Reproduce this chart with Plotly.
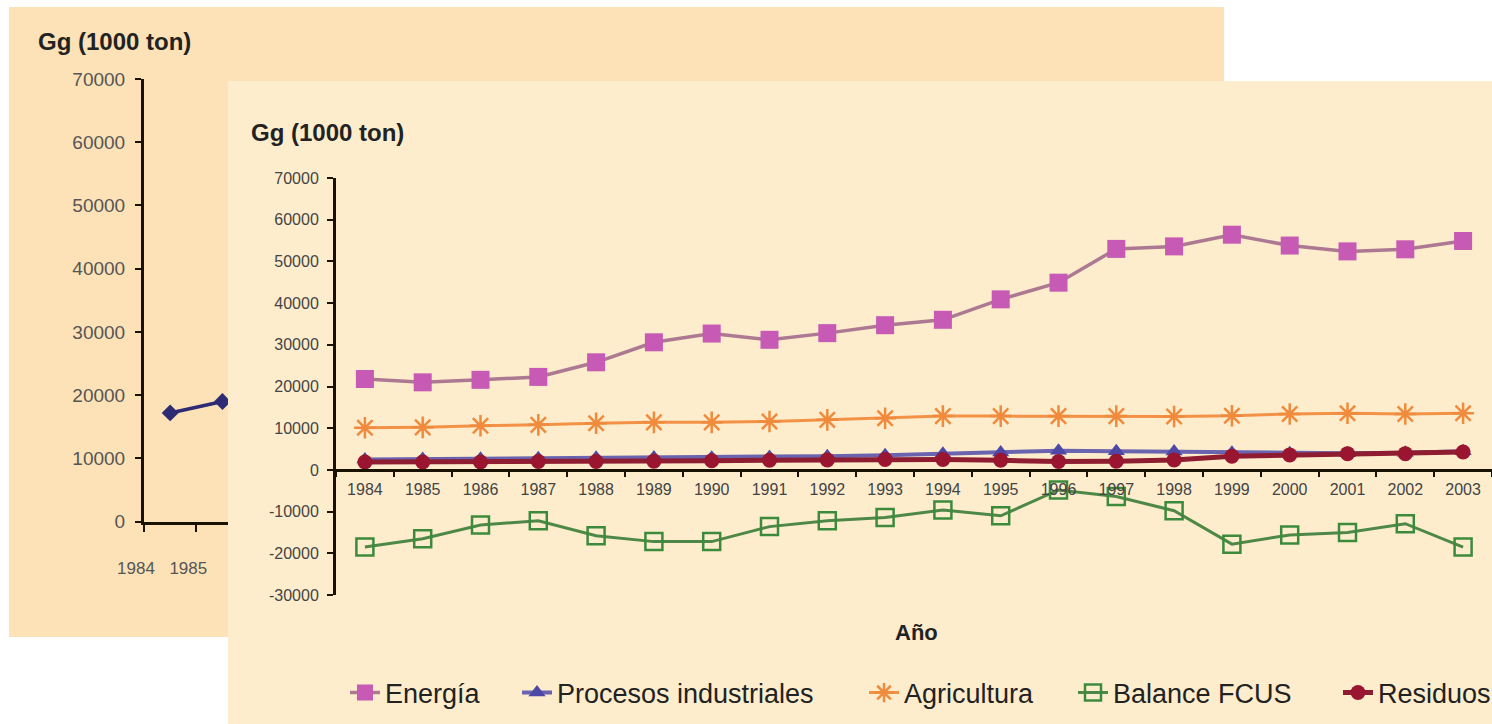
import plotly.graph_objects as go

# ---------------- data ----------------
years = ["1984", "1985", "1986", "1987", "1988", "1989", "1990", "1991", "1992", "1993",
         "1994", "1995", "1996", "1997", "1998", "1999", "2000", "2001", "2002", "2003"]

energia = [21800, 21000, 21600, 22300, 25800, 30600, 32700, 31200, 32800, 34700,
           36000, 40900, 44900, 53000, 53600, 56400, 53800, 52400, 52900, 54900]
procesos = [2500, 2600, 2700, 2800, 2900, 3000, 2900, 3100, 3300, 3500,
            3900, 4200, 4600, 4500, 4400, 4100, 4000, 4000, 4100, 4500]
agricultura = [10100, 10200, 10600, 10800, 11200, 11400, 11400, 11600, 12000, 12400,
               12900, 12900, 12900, 12900, 12800, 13000, 13400, 13600, 13400, 13600]
balance = [-18500, -16500, -13200, -12200, -15800, -17200, -17200, -13600, -12200, -11400,
           -9600, -11000, -4800, -6400, -9800, -17800, -15600, -15000, -12900, -18500]
residuos = [1900, 1900, 1900, 2000, 2000, 2100, 2200, 2300, 2400, 2500,
            2500, 2300, 2000, 2100, 2400, 3300, 3600, 3900, 3900, 4300]

front_y_ticks = [70000, 60000, 50000, 40000, 30000, 20000, 10000, 0, -10000, -20000, -30000]

back_years = [1984, 1985]
back_values = [17200, 19000]
back_y_ticks = [0, 10000, 20000, 30000, 40000, 50000, 60000, 70000]
back_x_ticktext = ["1984", "1985", "1986"]

# ---------------- geometry helpers ----------------
W, H = 1492, 724
FONT = "Liberation Sans, Arial, sans-serif"


def fx(px):
    return px / W


def fy(py):
    return 1 - py / H


fig = go.Figure()

series = [
    ("Energía", energia, dict(symbol="square", size=18, color="#C65AB4"),
     dict(color="#AC7892", width=3.5), "legend"),
    ("Procesos industriales", procesos, dict(symbol="triangle-up", size=15, color="#4D48A6"),
     dict(color="#6A64B0", width=4), "legend2"),
    ("Agricultura", agricultura,
     dict(symbol="asterisk-open", size=18, color="#F08A3C", line=dict(width=2.5, color="#F08A3C")),
     dict(color="#F39247", width=3), "legend3"),
    ("Balance FCUS", balance,
     dict(symbol="square-open", size=17, color="#3C8A3C", line=dict(width=2.5, color="#3C8A3C")),
     dict(color="#4E8846", width=3), "legend4"),
    ("Residuos", residuos, dict(symbol="circle", size=15, color="#9A1530"),
     dict(color="#8E1D32", width=5), "legend5"),
]

for name, vals, marker, line, leg in series:
    fig.add_trace(go.Scatter(
        x=years, y=vals, name=name, mode="lines+markers",
        marker=marker, line=line, xaxis="x", yaxis="y", legend=leg,
    ))

# back (partially hidden) chart
fig.add_trace(go.Scatter(
    x=back_years, y=back_values, mode="lines+markers", showlegend=False,
    marker=dict(symbol="diamond", size=13, color="#2C2B74"),
    line=dict(color="#2C2B74", width=3.5), xaxis="x2", yaxis="y2",
))

axis_col = "#1A1200"

fig.update_layout(
    width=W, height=H,
    margin=dict(l=0, r=0, t=0, b=0, autoexpand=False),
    paper_bgcolor="white",
    plot_bgcolor="rgba(0,0,0,0)",
    font=dict(family=FONT),
    xaxis=dict(
        type="category", domain=[fx(336), 1], range=[-0.5, 19.5],
        anchor="free", position=fy(470),
        tickson="boundaries", ticks="outside", ticklen=5, tickwidth=2, tickcolor=axis_col,
        showline=True, linewidth=3, linecolor=axis_col,
        showgrid=False, zeroline=False,
        tickfont=dict(size=16, color="#444444"), ticklabelstandoff=4,
    ),
    yaxis=dict(
        domain=[fy(595), fy(178)], range=[-30000, 70000], anchor="x",
        tickvals=front_y_ticks, ticktext=[str(v) for v in front_y_ticks],
        ticks="outside", ticklen=6, tickwidth=2, tickcolor=axis_col,
        showline=True, linewidth=3, linecolor=axis_col,
        showgrid=False, zeroline=False,
        tickfont=dict(size=16, color="#444444"), ticklabelstandoff=5,
    ),
    xaxis2=dict(
        domain=[fx(144), fx(228)], range=[1983.5, 1983.5 + 84 / 52.3], anchor="y2",
        tickvals=[1983.5, 1984.5, 1985.5], ticktext=back_x_ticktext,
        ticks="outside", ticklen=7, tickwidth=2, tickcolor=axis_col,
        showline=True, linewidth=3, linecolor=axis_col,
        showgrid=False, zeroline=False,
        tickfont=dict(size=17, color="#555555"), ticklabelshift=-8, ticklabelstandoff=22,
    ),
    yaxis2=dict(
        domain=[fy(521.7), fy(79)], range=[0, 70000], anchor="x2",
        tickvals=back_y_ticks, ticktext=[str(v) for v in back_y_ticks],
        ticks="outside", ticklen=6, tickwidth=2, tickcolor=axis_col,
        showline=True, linewidth=3, linecolor=axis_col,
        showgrid=False, zeroline=False,
        tickfont=dict(size=19, color="#555555"), ticklabelstandoff=6,
    ),
    shapes=[
        dict(type="rect", xref="paper", yref="paper", layer="below",
             x0=fx(9), x1=fx(1224), y0=fy(637), y1=fy(7),
             fillcolor="#FCE2B6", line=dict(width=0)),
        dict(type="rect", xref="paper", yref="paper", layer="below",
             x0=fx(228), x1=1, y0=0, y1=fy(81),
             fillcolor="#FDEDCD", line=dict(width=0)),
    ],
    annotations=[
        dict(text="<b>Gg (1000 ton)</b>", xref="paper", yref="paper", x=fx(36), y=fy(41),
             xanchor="left", yanchor="middle", showarrow=False,
             font=dict(size=24, color="#222222")),
        dict(text="<b>Gg (1000 ton)</b>", xref="paper", yref="paper", x=fx(249), y=fy(133),
             xanchor="left", yanchor="middle", showarrow=False,
             font=dict(size=24, color="#222222")),
        dict(text="<b>Año</b>", xref="paper", yref="paper", x=fx(916), y=fy(632),
             xanchor="center", yanchor="middle", showarrow=False,
             font=dict(size=22, color="#222222")),
    ],
    showlegend=True,
)

legend_starts = {"legend": 345, "legend2": 517, "legend3": 864, "legend4": 1073, "legend5": 1338}
for key, start in legend_starts.items():
    fig.update_layout({key: dict(
        x=fx(start), y=fy(693), xanchor="left", yanchor="middle",
        orientation="h", bgcolor="rgba(0,0,0,0)", borderwidth=0,
        font=dict(size=27, color="#222222", family=FONT),
    )})

fig.write_html("out.html", config={"displayModeBar": False},
               post_script="document.body.style.margin='0';")
